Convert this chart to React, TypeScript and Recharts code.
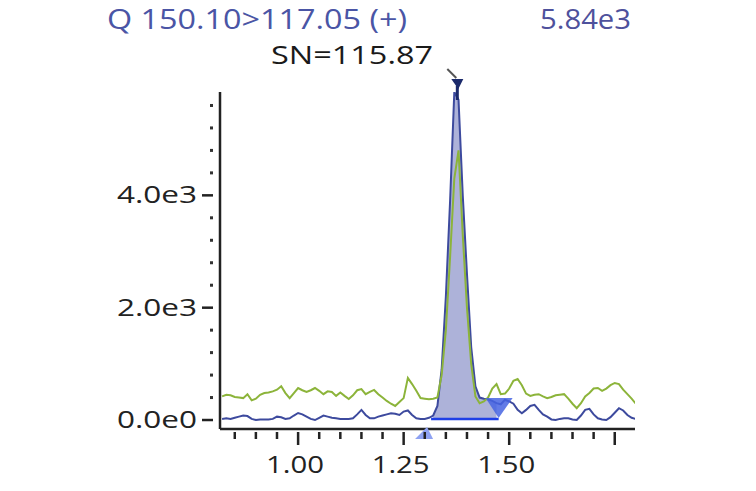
import {
  ComposedChart,
  Line,
  Area,
  XAxis,
  YAxis,
  ReferenceLine,
  ReferenceDot,
} from "recharts";

const times = [
  0.82, 0.83, 0.84, 0.85, 0.86, 0.87, 0.88, 0.89, 0.9, 0.91,
  0.92, 0.93, 0.94, 0.95, 0.96, 0.97, 0.98, 0.99, 1.0, 1.01,
  1.02, 1.03, 1.04, 1.05, 1.06, 1.07, 1.08, 1.09, 1.1, 1.11,
  1.12, 1.13, 1.14, 1.15, 1.16, 1.17, 1.18, 1.19, 1.2, 1.21,
  1.22, 1.23, 1.24, 1.25, 1.26, 1.27, 1.28, 1.29, 1.3, 1.31,
  1.32, 1.33, 1.34, 1.35, 1.36, 1.37, 1.38, 1.39, 1.4, 1.41,
  1.42, 1.43, 1.44, 1.45, 1.46, 1.47, 1.48, 1.49, 1.5, 1.51,
  1.52, 1.53, 1.54, 1.55, 1.56, 1.57, 1.58, 1.59, 1.6, 1.61,
  1.62, 1.63, 1.64, 1.65, 1.66, 1.67, 1.68, 1.69, 1.7, 1.71,
  1.72, 1.73, 1.74, 1.75, 1.76, 1.77, 1.78, 1.79, 1.8,
];

// qualifier trace (green)
const greenTrace = [
  420, 450, 440, 410, 400, 390, 460, 350, 380, 450,
  480, 490, 510, 540, 600, 480, 390, 480, 570, 530,
  500, 530, 570, 520, 460, 510, 500, 430, 490, 430,
  375, 440, 530, 550, 460, 500, 535, 460, 400, 340,
  290, 250, 320, 390, 750, 640, 520, 390, 380, 370,
  380, 400, 800, 1600, 2900, 4300, 4800, 3300, 2000, 1000,
  420, 300, 330, 400, 560, 640, 460, 470, 560, 700,
  730, 620, 470, 430, 450, 460, 420, 390, 410, 440,
  450, 460, 380, 290, 210, 300, 420, 480, 560, 570,
  520, 560, 620, 660, 640, 540, 460, 380, 290,
];

// quantifier trace (blue)
const blueTrace = [
  20, 30, 20, 40, 60, 80, 70, 20, 0, 10,
  10, 10, 20, 60, 50, 20, 30, 80, 125, 100,
  60, 20, 0, 40, 80, 60, 40, 30, 20, 20,
  20, 30, 100, 180, 90, 30, 30, 60, 80, 100,
  120, 110, 90, 150, 170, 90, 30, 20, 20, 40,
  80, 250, 900, 2200, 3900, 5840, 5700, 4000, 2600, 1300,
  600, 400, 380, 370, 340, 300, 280, 360, 330, 290,
  180, 120, 180, 250, 270, 180, 100, 60, 10, 0,
  20, 30, 30, 10, 0, 80, 180, 200, 100, 30,
  10, 0, 50, 130, 210, 170, 90, 40, 20,
];

const xTicks = [
  0.85, 0.9, 0.95, 1.0, 1.05, 1.1, 1.15, 1.2, 1.25, 1.3, 1.35, 1.4, 1.45,
  1.5, 1.55, 1.6, 1.65, 1.7, 1.75,
];
const xMajor = [1.0, 1.25, 1.5, 1.75];
const xLabels: Record<string, string> = { "1": "1.00", "1.25": "1.25", "1.5": "1.50" };

const yTicks = [
  0, 400, 800, 1200, 1600, 2000, 2400, 2800, 3200, 3600, 4000, 4400, 4800,
  5200, 5600,
];
const yLabels: Record<number, string> = { 0: "0.0e0", 2000: "2.0e3", 4000: "4.0e3" };

const peakStart = 1.315;
const peakEnd = 1.475;
const peakBase = 20;
const apexTime = 1.37;
const apexValue = 5840;

const data = times.map((t, i) => ({
  t,
  green: greenTrace[i],
  blue: blueTrace[i],
  fill: t >= peakStart - 0.001 && t <= peakEnd ? blueTrace[i] : null,
}));

const FONT = "'Segoe UI', 'Open Sans', sans-serif";

function YTick(props: any) {
  const { x, y, payload } = props;
  const label = yLabels[payload.value];
  if (label) {
    return (
      <g>
        <line x1={x - 18} x2={x - 7} y1={y} y2={y} stroke="#222" strokeWidth={2.5} />
        <text
          x={x - 23}
          y={y + 8}
          textAnchor="end"
          fontFamily={FONT}
          fontSize={23}
          fill="#222"
          textLength={80}
          lengthAdjust="spacingAndGlyphs"
        >
          {label}
        </text>
      </g>
    );
  }
  return <rect x={x - 10} y={y - 1.5} width={3} height={3} fill="#333" />;
}

function XTick(props: any) {
  const { x, y, payload } = props;
  const v = Math.round(payload.value * 100) / 100;
  const major = xMajor.some((m) => Math.abs(m - v) < 0.001);
  const label = xLabels[String(v)];
  return (
    <g>
      <line x1={x} x2={x} y1={y + 3} y2={y + (major ? 16 : 10)} stroke="#222" strokeWidth={2.5} />
      {label && (
        <text
          x={x - 3}
          y={y + 44}
          textAnchor="middle"
          fontFamily={FONT}
          fontSize={24}
          fill="#222"
          textLength={58}
          lengthAdjust="spacingAndGlyphs"
        >
          {label}
        </text>
      )}
    </g>
  );
}

function ApexMarker(props: any) {
  const { cx, cy } = props;
  return (
    <g>
      <line x1={cx - 7} y1={cy - 23} x2={cx + 2} y2={cy - 14} stroke="#555" strokeWidth={2} />
      <polygon
        points={`${cx - 3},${cy - 13} ${cx + 9},${cy - 13} ${cx + 4},${cy - 3}`}
        fill="#1b2a6b"
      />
      <line x1={cx + 3} y1={cy - 6} x2={cx + 3} y2={cy + 8} stroke="#1b2a6b" strokeWidth={3} />
    </g>
  );
}

function EndMarker(props: any) {
  const { cx, cy } = props;
  return (
    <polygon
      points={`${cx - 13},${cy - 21} ${cx + 14},${cy - 21} ${cx},${cy - 1}`}
      fill="#4664e2"
      fillOpacity={0.85}
    />
  );
}

function StartMarker(props: any) {
  const { cx, cy } = props;
  return (
    <polygon
      points={`${cx - 4},${cy + 8} ${cx - 16},${cy + 20} ${cx + 2},${cy + 20}`}
      fill="#8ea2f2"
    />
  );
}

export default function App() {
  return (
    <div
      style={{
        position: "absolute",
        left: 0,
        top: 0,
        width: 756,
        height: 491,
        background: "#fff",
      }}
    >
      <ComposedChart
        width={756}
        height={491}
        data={data}
        margin={{ top: 92, right: 121, bottom: 0, left: 0 }}
      >
        <XAxis
          type="number"
          dataKey="t"
          domain={[0.815, 1.798]}
          ticks={xTicks}
          interval={0}
          allowDataOverflow
          height={62}
          tickSize={0}
          tickMargin={0}
          tickLine={false}
          axisLine={{ stroke: "#222", strokeWidth: 2.5 }}
          tick={<XTick />}
        />
        <YAxis
          type="number"
          domain={[-160, 5840]}
          ticks={yTicks}
          interval={0}
          allowDataOverflow
          width={220}
          tickSize={0}
          tickMargin={0}
          tickLine={false}
          axisLine={{ stroke: "#222", strokeWidth: 2.5 }}
          tick={<YTick />}
        />
        <Area
          dataKey="fill"
          type="linear"
          baseValue={peakBase}
          fill="#adb2d9"
          fillOpacity={1}
          stroke="none"
          isAnimationActive={false}
        />
        <Line
          dataKey="blue"
          type="linear"
          stroke="#3d4a9e"
          strokeWidth={2}
          dot={false}
          isAnimationActive={false}
        />
        <Line
          dataKey="green"
          type="linear"
          stroke="#8cb43a"
          strokeWidth={2}
          dot={false}
          isAnimationActive={false}
        />
        <ReferenceLine
          segment={[
            { x: peakStart, y: peakBase },
            { x: peakEnd, y: peakBase },
          ]}
          stroke="#1f3fe6"
          strokeWidth={2.5}
        />
        <ReferenceDot x={peakEnd} y={peakBase} shape={EndMarker} />
        <ReferenceDot x={peakStart} y={peakBase} shape={StartMarker} />
        <ReferenceDot x={apexTime} y={apexValue} shape={ApexMarker} />
      </ComposedChart>
      <svg
        width={756}
        height={491}
        style={{ position: "absolute", left: 0, top: 0, pointerEvents: "none" }}
      >
        <text
          x={107}
          y={29}
          fontFamily={FONT}
          fontSize={27}
          fill="#4a55a5"
          textLength={300}
          lengthAdjust="spacingAndGlyphs"
        >
          Q 150.10&gt;117.05 (+)
        </text>
        <text
          x={540}
          y={29}
          fontFamily={FONT}
          fontSize={27}
          fill="#4e519c"
          textLength={91}
          lengthAdjust="spacingAndGlyphs"
        >
          5.84e3
        </text>
        <text
          x={271}
          y={64}
          fontFamily={FONT}
          fontSize={26}
          fill="#1a1a1a"
          textLength={162}
          lengthAdjust="spacingAndGlyphs"
        >
          SN=115.87
        </text>
      </svg>
    </div>
  );
}
